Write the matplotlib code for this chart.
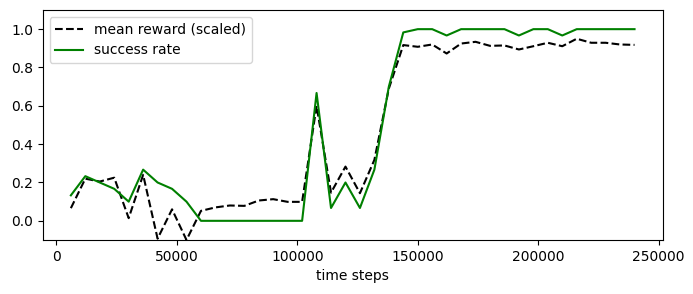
import numpy as np
import matplotlib
matplotlib.use('Agg')
import matplotlib.pyplot as plt

steps = np.arange(6000, 240001, 6000)

mean_reward = [0.066, 0.22, 0.205, 0.225, 0.014, 0.24, -0.093, 0.06, -0.1, 0.052,
               0.07, 0.08, 0.078, 0.106, 0.113, 0.099, 0.099, 0.6, 0.147, 0.283,
               0.144, 0.318, 0.69, 0.917, 0.908, 0.92, 0.873, 0.925, 0.934, 0.913,
               0.915, 0.894, 0.911, 0.929, 0.911, 0.95, 0.929, 0.929, 0.92, 0.918]

success_rate = [0.133, 0.233, 0.2, 0.167, 0.1, 0.267, 0.2, 0.167, 0.1, 0.0,
                0.0, 0.0, 0.0, 0.0, 0.0, 0.0, 0.0, 0.667, 0.067, 0.2,
                0.067, 0.267, 0.7, 0.983, 1.0, 1.0, 0.967, 1.0, 1.0, 1.0,
                1.0, 0.967, 1.0, 1.0, 0.967, 1.0, 1.0, 1.0, 1.0, 1.0]

fig = plt.figure(figsize=(6.93, 2.94), dpi=100)
ax = fig.add_axes([0.0616, 0.1837, 0.8947, 0.7823])
ax.plot(steps, mean_reward, 'k--', label='mean reward (scaled)')
ax.plot(steps, success_rate, 'g-', label='success rate')
ax.set_ylim(-0.1, 1.1)
ax.set_xlabel('time steps')
ax.legend(loc='upper left')
fig.savefig('out.png', dpi=100)
